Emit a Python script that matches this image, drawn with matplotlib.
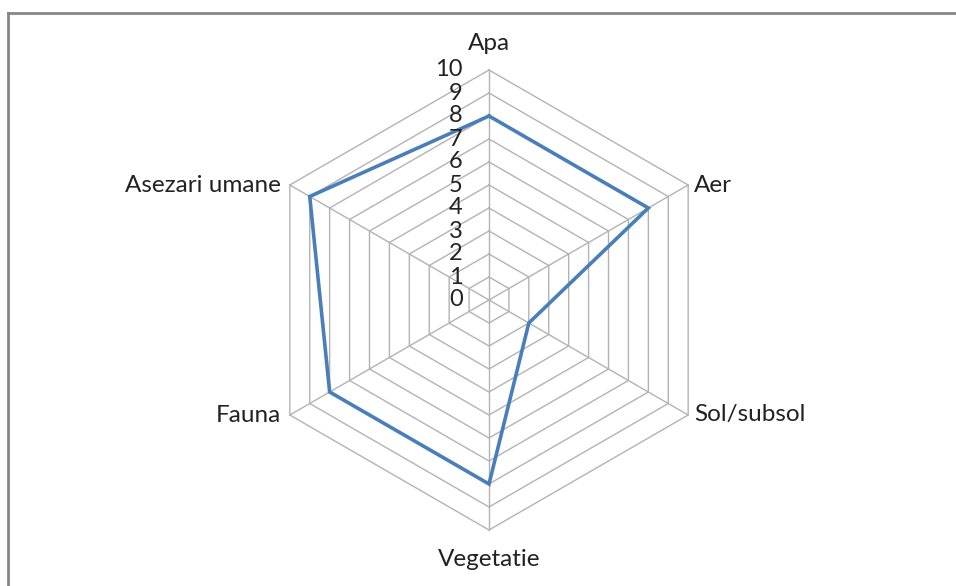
import numpy as np
import matplotlib.pyplot as plt
from matplotlib.lines import Line2D

# date
categorii = ['Apa', 'Aer', 'Sol/subsol', 'Vegetatie', 'Fauna', 'Asezari umane']
valori = [8, 8, 2, 8, 8, 9]
ticks = [0, 1, 2, 3, 4, 5, 6, 7, 8, 9, 10]
rmax = 10

plt.rcParams['font.family'] = ['Lato', 'DejaVu Sans']

fig = plt.figure(figsize=(9.56, 5.86), dpi=100)
ax = fig.add_axes([0, 0, 1, 1])

# scala: 230 px = 10 unitati, centrul la (489, 300) px
k = rmax / 230.0
ax.set_xlim(-489 * k, (956 - 489) * k)
ax.set_ylim(-286 * k, (586 - 286) * k)
ax.axis('off')

n = len(categorii)
unghiuri = np.pi / 2 - np.arange(n) * 2 * np.pi / n
ux = np.cos(unghiuri)
uy = np.sin(unghiuri)

# inelele hexagonale
for t in ticks[1:]:
    ax.plot(np.append(ux, ux[0]) * t, np.append(uy, uy[0]) * t,
            color='#b3b3b3', lw=1.0, zorder=1)
# spitele
for i in range(n):
    ax.plot([0, ux[i] * rmax], [0, uy[i] * rmax], color='#b3b3b3', lw=1.0, zorder=1)

# seria de date
v = np.array(valori, dtype=float)
ax.plot(np.append(ux * v, ux[0] * v[0]), np.append(uy * v, uy[0] * v[0]),
        color='#4a7ebb', lw=2.6, solid_joinstyle='miter', zorder=3)

# etichetele axei radiale
for t in ticks:
    ax.text(-1.15, t, str(t), ha='right', va='center', fontsize=17, color='#222222', zorder=4)

# etichetele categoriilor
for i, c in enumerate(categorii):
    x, y = ux[i] * rmax, uy[i] * rmax
    if abs(ux[i]) < 1e-6:
        ha = 'center'
        y = y + (1.15 if uy[i] > 0 else -1.3)
    elif ux[i] > 0:
        ha = 'left'
        x += 0.25
    else:
        ha = 'right'
        x -= 0.4
    ax.text(x, y, c, ha=ha, va='center', fontsize=17.5, color='#222222')

# chenarul graficului
fig.add_artist(Line2D([8 / 956, 8 / 956], [0, 1 - 13 / 586], transform=fig.transFigure,
                      color='#868686', lw=2))
fig.add_artist(Line2D([8 / 956, 1], [1 - 13 / 586, 1 - 13 / 586], transform=fig.transFigure,
                      color='#868686', lw=2))

plt.savefig('out.png', dpi=100)
